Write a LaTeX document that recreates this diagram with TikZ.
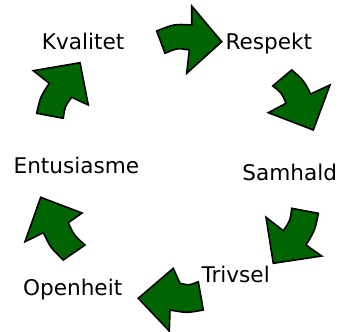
\documentclass[tikz,border=0pt]{standalone}
\usepackage{fontspec}
\setmainfont{DejaVu Sans}
\definecolor{arrowgreen}{RGB}{0,100,0}
\tikzset{
  cyclearrow/.style={draw=black, fill=arrowgreen, line width=1.6pt, line join=miter},
  lbl/.style={inner sep=0pt, outer sep=0pt, font=\fontsize{21.6}{25}\selectfont}
}
\begin{document}
\begin{tikzpicture}[x=1pt, y=-1pt]
\useasboundingbox (0,0) rectangle (346,332);
% labels
\node[lbl, anchor=base west] (kval) at (41.9,49) {Kvalitet};
\node[lbl, anchor=base west] (resp) at (225.6,49) {Respekt};
\node[lbl, anchor=base east] (samh) at (337,180.7) {Samhald};
\node[lbl, anchor=base west] (triv) at (201.5,282.7) {Trivsel};
\node[lbl, anchor=base west] (open) at (23.1,295) {Openheit};
\node[lbl, anchor=base west] (entu) at (13.6,173.3) {Entusiasme};
% arrow 1 (top, pointing right)
\draw[cyclearrow] (156.7,31) .. controls (174.2,24) .. (191.7,25) -- (191.7,6) -- (221.7,41.7)
  -- (186.7,73.3) -- (189.3,50) .. controls (177.2,48) .. (165,53.3) -- cycle;
% arrow 2 (down-right)
\draw[cyclearrow] (272.7,86) -- (291.7,70) .. controls (303.6,80.2) .. (310.7,94) -- (330,85)
  -- (313.3,130) -- (268.3,112.7) -- (286,103.3) .. controls (281.7,92.8) .. cycle;
% arrow 3 (down-left)
\draw[cyclearrow] (291.7,208.3) -- (318.3,213.3) .. controls (315,230.3) .. (306,245) -- (321.7,256)
  -- (273.3,263.3) -- (266,217.3) -- (283.3,230.7) .. controls (290.3,220.6) .. cycle;
% arrow 4 (bottom, pointing left)
\draw[cyclearrow] (138.3,298.3) -- (173.3,268.3) -- (180,283.3) .. controls (189.2,285.5) .. (198.3,281.7)
  -- (203.3,310) .. controls (186.7,313) .. (170,310) -- (169.3,331) -- cycle;
% arrow 5 (left, pointing up)
\draw[cyclearrow] (40.7,197.3) -- (82,213) -- (68.3,222.7) .. controls (74.1,235.4) .. (85,245)
  -- (63.3,260) .. controls (50.7,247.9) .. (43.3,232.7) -- (25,241.7) -- cycle;
% arrow 6 (upper left, pointing up-right)
\draw[cyclearrow] (33.3,70.7) -- (80,62.7) -- (88.3,105) -- (71.7,97.3) .. controls (64.9,106.3) .. (63.3,118.3)
  -- (36.7,113.3) .. controls (40.4,96.8) .. (49.3,83.3) -- cycle;
\end{tikzpicture}
\end{document}
